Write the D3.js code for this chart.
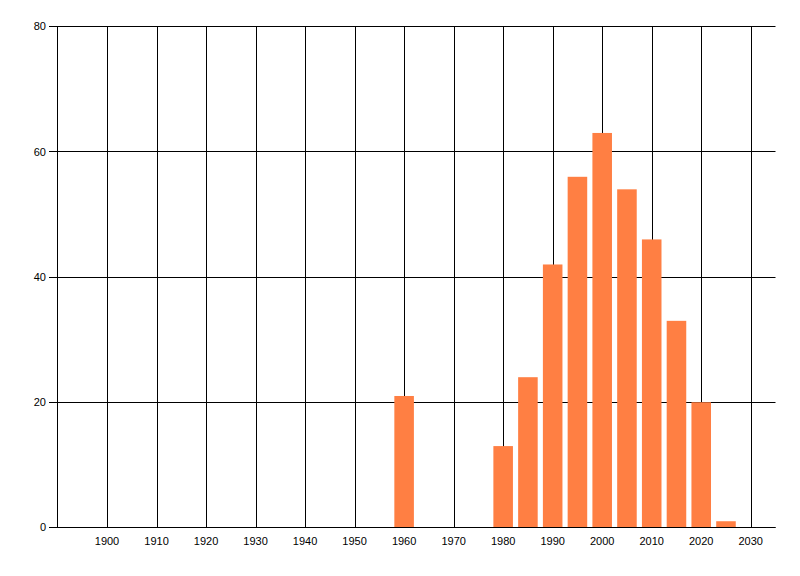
<!DOCTYPE html>
<html>
<head>
<meta charset="utf-8">
<script src="https://cdn.jsdelivr.net/npm/d3@7"></script>
<style>
  html, body { margin: 0; padding: 0; background: #fff; }
  text { font-family: "Liberation Sans", Arial, sans-serif; font-size: 11px; fill: #000; }
</style>
</head>
<body>
<div id="app"></div>
<script>
// data
const years = [1960, 1980, 1985, 1990, 1995, 2000, 2005, 2010, 2015, 2020, 2025];
const counts = [21, 13, 24, 42, 56, 63, 54, 46, 33, 20, 1];
const xTicks = [1900, 1910, 1920, 1930, 1940, 1950, 1960, 1970, 1980, 1990, 2000, 2010, 2020, 2030];
const yTicks = [0, 20, 40, 60, 80];

const w = 800;
const h = 576;
const barYears = 3.95;

const svg = d3.select("#app")
  .append("svg")
  .attr("width", w)
  .attr("height", h);

const x = d3.scaleLinear().domain([1890, 2035]).range([57.5, 775.5]);
const y = d3.scaleLinear().domain([0, 80]).range([527.5, 26.5]);

//grid
svg.append("g")
  .selectAll("line")
  .data(xTicks)
  .enter()
  .append("line")
  .attr("x1", d => Math.round(x(d)) + 0.5)
  .attr("x2", d => Math.round(x(d)) + 0.5)
  .attr("y1", y(80))
  .attr("y2", y(0))
  .attr("stroke", "#000");

svg.append("g")
  .selectAll("line")
  .data(yTicks)
  .enter()
  .append("line")
  .attr("x1", 49)
  .attr("x2", x(2035))
  .attr("y1", d => Math.round(y(d) - 0.5) + 0.5)
  .attr("y2", d => Math.round(y(d) - 0.5) + 0.5)
  .attr("stroke", "#000");

//bars
svg.append("g")
  .selectAll("rect")
  .data(years)
  .enter()
  .append("rect")
  .attr("x", d => x(d - barYears / 2))
  .attr("width", x(1890 + barYears) - x(1890))
  .attr("y", (d, i) => y(counts[i]))
  .attr("height", (d, i) => y(0) - y(counts[i]))
  .attr("fill", "#ff7f43");

//axis lines
svg.append("line")
  .attr("x1", x(1890)).attr("x2", x(1890))
  .attr("y1", y(80)).attr("y2", y(0) + 0.5)
  .attr("stroke", "#000");
svg.append("line")
  .attr("x1", x(1890)).attr("x2", x(2035))
  .attr("y1", y(0)).attr("y2", y(0))
  .attr("stroke", "#000");

//labels
svg.append("g")
  .selectAll("text")
  .data(yTicks)
  .enter()
  .append("text")
  .attr("x", 46)
  .attr("y", d => y(d))
  .attr("dy", "0.35em")
  .attr("text-anchor", "end")
  .text(d => d);

svg.append("g")
  .selectAll("text")
  .data(xTicks)
  .enter()
  .append("text")
  .attr("x", d => x(d))
  .attr("y", 545)
  .attr("text-anchor", "middle")
  .text(d => d);
</script>
</body>
</html>
